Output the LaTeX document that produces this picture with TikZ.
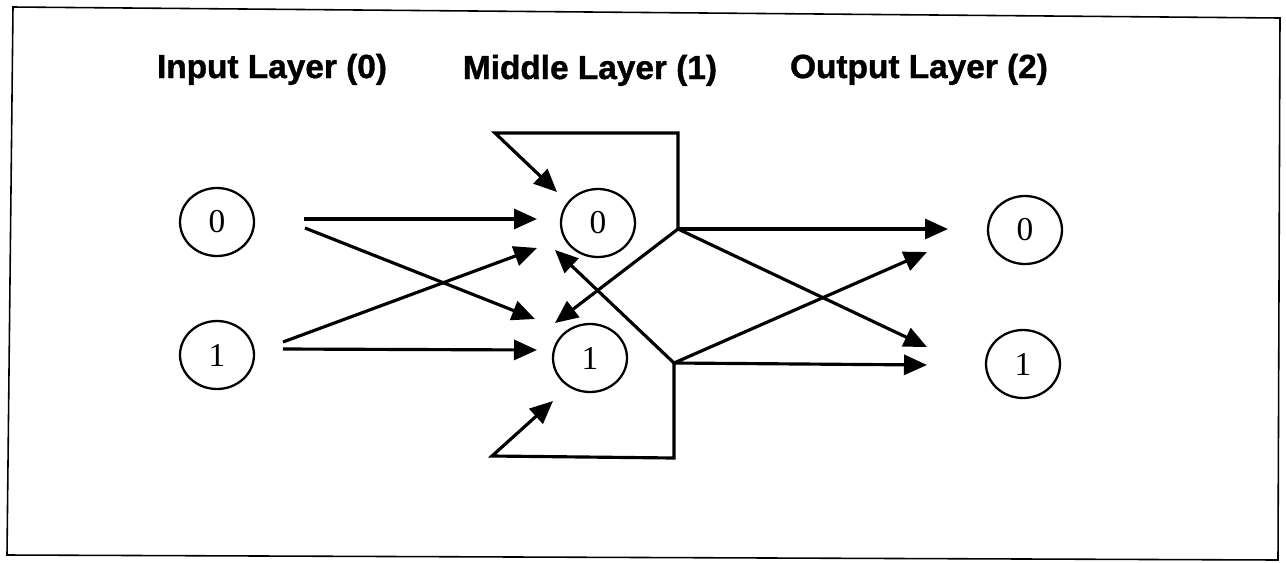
\documentclass[tikz,border=0pt]{standalone}
\usepackage{fontspec}
\setmainfont{Liberation Serif}
\setsansfont{Liberation Sans}
\newfontfamily\headfont[FakeBold=1.2]{Liberation Sans Bold}
\usetikzlibrary{arrows.meta,shapes.geometric}

\begin{document}
\begin{tikzpicture}[x=0.02cm, y=-0.02cm,
		unit/.style = {shape=ellipse, draw, line width=1.3pt,
			minimum width=1.48cm, minimum height=1.36cm, inner sep=0pt,
			font=\fontsize{19}{19}\selectfont},
		layer/.style = {anchor=base, font=\fontsize{19}{19}\selectfont\headfont},
		link/.style = {line width=1.8pt, line join=miter,
			-{Triangle[length=4.6mm,width=4mm]}}]
	\useasboundingbox (0,0) rectangle (1286,562);
	\draw[line width=0.9pt] (13,7) -- (1280,18) -- (1278,560) -- (7,555) -- cycle;

	% layer titles
	\node[layer] (inlayer) at (272,78) {Input Layer (0)};
	\node[layer] (midlayer) at (590,79) {Middle Layer (1)};
	\node[layer] (outlayer) at (919,78) {Output Layer (2)};

	% units
	\node[unit] (in0) at (217,222) {0};
	\node[unit] (in1) at (217,355) {1};
	\node[unit] (mid0) at (598,223) {0};
	\node[unit] (mid1) at (590,358) {1};
	\node[unit] (out0) at (1025,230) {0};
	\node[unit] (out1) at (1023,364) {1};

	% ends of the links
	\coordinate (i0a) at (304,219);
	\coordinate (i0b) at (305,228);
	\coordinate (i1a) at (283,342);
	\coordinate (i1b) at (283,349);
	\coordinate (m0a) at (537,219);
	\coordinate (m0b) at (537,248);
	\coordinate (m0c) at (555,250);
	\coordinate (m0d) at (557,192);
	\coordinate (m1a) at (535,319);
	\coordinate (m1b) at (537,350);
	\coordinate (m1c) at (555,323);
	\coordinate (m1d) at (553,401);
	\coordinate (j0) at (678,229);
	\coordinate (j1) at (674,363);
	\coordinate (t0) at (678,133);
	\coordinate (t1) at (495,133);
	\coordinate (b0) at (674,458);
	\coordinate (b1) at (492,456);
	\coordinate (o0a) at (948,229);
	\coordinate (o0b) at (927,252);
	\coordinate (o1a) at (927,347);
	\coordinate (o1b) at (927,365);

	% input -> middle
	\draw[link] (i0a) -- (m0a);
	\draw[link] (i0b) -- (m1a);
	\draw[link] (i1a) -- (m0b);
	\draw[link] (i1b) -- (m1b);
	% middle -> middle
	\draw[link] (j0) -- (t0) -- (t1) -- (m0d);
	\draw[link] (j0) -- (m1c);
	\draw[link] (j1) -- (m0c);
	\draw[link] (j1) -- (b0) -- (b1) -- (m1d);
	% middle -> output
	\draw[link] (j0) -- (o0a);
	\draw[link] (j0) -- (o1a);
	\draw[link] (j1) -- (o0b);
	\draw[link] (j1) -- (o1b);
\end{tikzpicture}
\end{document}
